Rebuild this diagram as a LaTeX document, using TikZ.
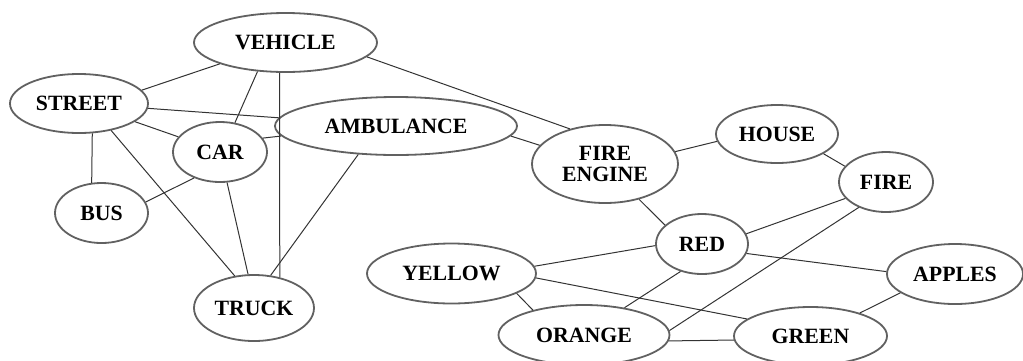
\documentclass[tikz,border=0pt]{standalone}
\usepackage{fontspec}
\setmainfont{Liberation Serif}
\usetikzlibrary{shapes.geometric}

\tikzset{
  concept/.style={ellipse, draw=black!62, line width=1.8pt, inner sep=0pt,
    font=\fontsize{21.8}{23}\selectfont\bfseries, align=center, text=black},
  link/.style={draw=black!80, line width=1pt},
}

\begin{document}
\begin{tikzpicture}[x=1pt, y=-1pt]
\useasboundingbox (0,0) rectangle (1023,360);

% concepts (size = 2rx x 2ry)
\node[concept, minimum width=183pt, minimum height=59pt] (vehicle)   at (285.5,42.5) {VEHICLE};
\node[concept, minimum width=138pt, minimum height=59pt] (street)    at (79,103.5)   {STREET};
\node[concept, minimum width=94pt,  minimum height=60pt] (car)       at (220,152)    {CAR};
\node[concept, minimum width=242pt, minimum height=58pt] (ambulance) at (396,126)    {AMBULANCE};
\node[concept, minimum width=93pt,  minimum height=60pt] (bus)       at (101.5,213)  {BUS};
\node[concept, minimum width=120pt, minimum height=66pt] (truck)     at (254,308)    {TRUCK};
\node[concept, minimum width=146pt, minimum height=78pt] (fireengine) at (605,164)   {FIRE\\[-2pt]ENGINE};
\node[concept, minimum width=122pt, minimum height=58pt] (house)     at (777,134)    {HOUSE};
\node[concept, minimum width=94pt,  minimum height=60pt] (fire)      at (886,182)    {FIRE};
\node[concept, minimum width=92pt,  minimum height=60pt] (red)       at (702,244)    {RED};
\node[concept, minimum width=169pt, minimum height=60pt] (yellow)    at (451.5,273.5) {YELLOW};
\node[concept, minimum width=136pt, minimum height=60pt] (apples)    at (955,274)    {APPLES};
\node[concept, minimum width=171pt, minimum height=60pt] (orange)    at (584,335)    {ORANGE};
\node[concept, minimum width=153pt, minimum height=58pt] (green)     at (810.5,336)  {GREEN};

% associations
\draw[link] (vehicle.198)   -- (street.12);
\draw[link] (vehicle.226)   -- (car.63);
\draw[link] (vehicle.259)   -- (truck.50);
\draw[link] (vehicle.350)   -- (fireengine.135);
\draw[link] (street.356.5)  -- (ambulance.176);
\draw[link] (street.342.5)  -- (car.160);
\draw[link] (street.294)    -- (bus.108);
\draw[link] (street.320)    -- (truck.121);
\draw[link] (car.225)       -- (bus.14);
\draw[link] (car.283)       -- (truck.100);
\draw[link] (car.18)        -- (ambulance.185);
\draw[link] (ambulance.217) -- (truck.63);
\draw[link] (ambulance.355) -- (fireengine.164);
\draw[link] (fireengine.10) -- (house.187.5);
\draw[link] (fireengine.314) -- (red.153);
\draw[link] (house.337)     -- (fire.159.5);
\draw[link] (fire.202)      -- (red.13.5);
\draw[link] (fire.223.5)    -- (orange.3.4);
\draw[link] (red.182.5)     -- (yellow.5.8);
\draw[link] (red.348.6)     -- (apples.178);
\draw[link] (red.232)       -- (orange.34);
\draw[link] (yellow.343.5)  -- (orange.154);
\draw[link] (yellow.357.4)  -- (green.165.7);
\draw[link] (orange.356)    -- (green.183.6);
\draw[link] (apples.199.3)  -- (green.25.4);
\end{tikzpicture}
\end{document}
